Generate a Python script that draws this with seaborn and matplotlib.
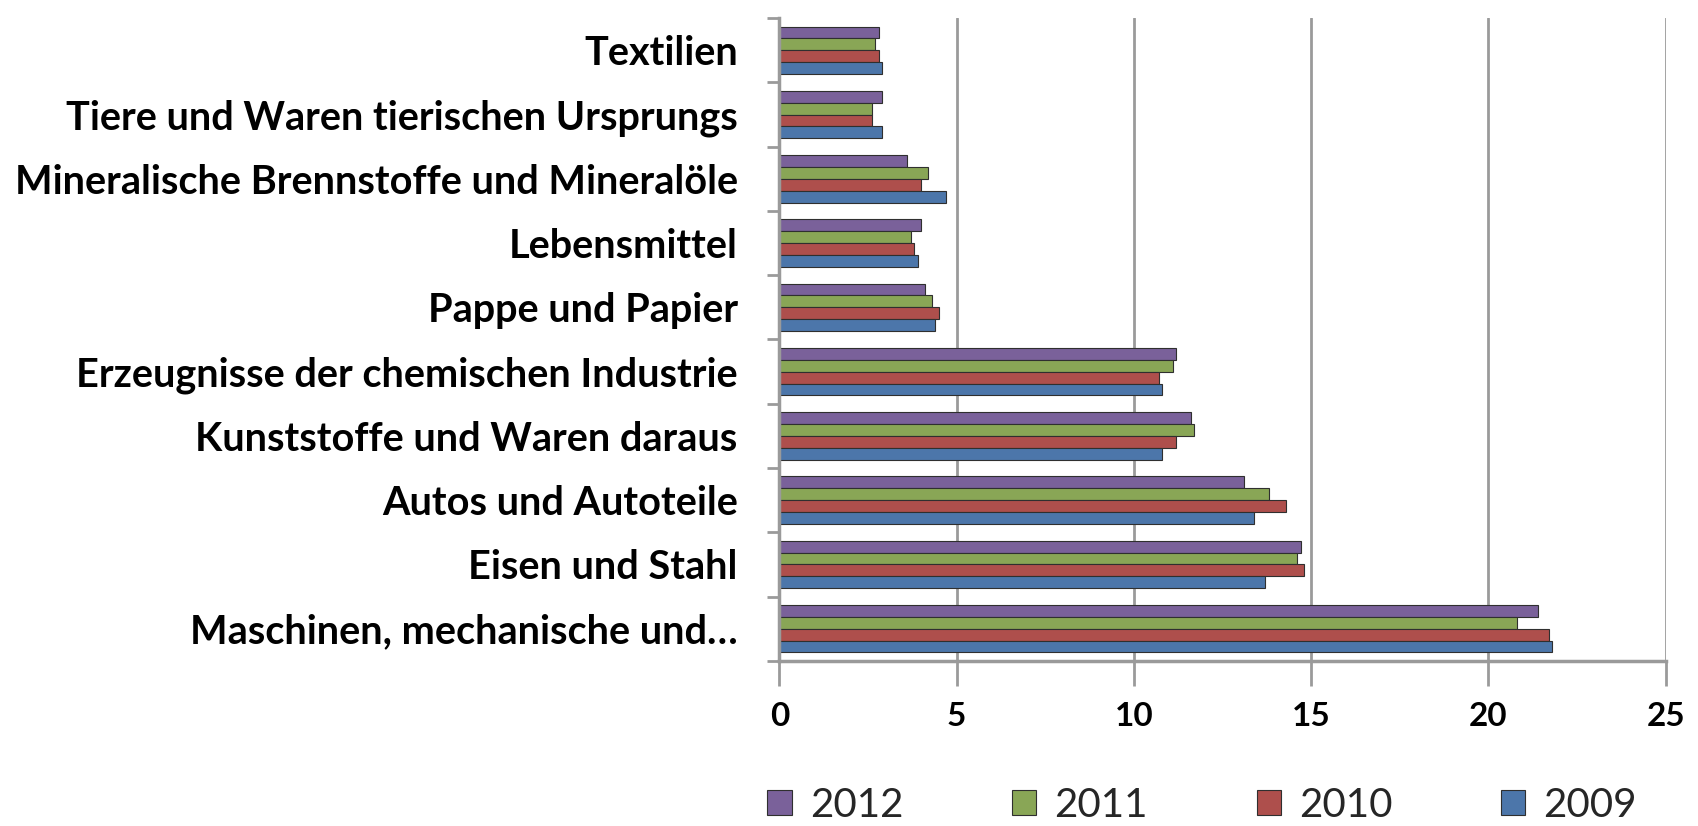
import matplotlib
matplotlib.use("Agg")
import matplotlib.pyplot as plt
import seaborn as sns
import pandas as pd
from matplotlib.ticker import MultipleLocator, FixedLocator

categories = [
    "Textilien",
    "Tiere und Waren tierischen Ursprungs",
    "Mineralische Brennstoffe und Mineralöle",
    "Lebensmittel",
    "Pappe und Papier",
    "Erzeugnisse der chemischen Industrie",
    "Kunststoffe und Waren daraus",
    "Autos und Autoteile",
    "Eisen und Stahl",
    "Maschinen, mechanische und…",
]
years = ["2012", "2011", "2010", "2009"]
v2012 = [2.8, 2.9, 3.6, 4.0, 4.1, 11.2, 11.6, 13.1, 14.7, 21.4]
v2011 = [2.7, 2.6, 4.2, 3.7, 4.3, 11.1, 11.7, 13.8, 14.6, 20.8]
v2010 = [2.8, 2.6, 4.0, 3.8, 4.5, 10.7, 11.2, 14.3, 14.8, 21.7]
v2009 = [2.9, 2.9, 4.7, 3.9, 4.4, 10.8, 10.8, 13.4, 13.7, 21.8]
colors = ["#7957A3", "#8DB349", "#BE3F3C", "#3C74BA"]

series = {"2012": v2012, "2011": v2011, "2010": v2010, "2009": v2009}
rows = []
for y in years:
    for c, v in zip(categories, series[y]):
        rows.append({"Kategorie": c, "Jahr": y, "Wert": v})
df = pd.DataFrame(rows)

sns.set_theme(style="white")
plt.rcParams["font.family"] = ["Lato", "DejaVu Sans"]

fig = plt.figure(figsize=(16.98, 8.26), dpi=100)
ax = fig.add_axes([0.459, 0.2, 0.522, 0.778])

sns.barplot(data=df, y="Kategorie", x="Wert", hue="Jahr", hue_order=years,
            order=categories, palette=colors, orient="h", width=0.74,
            edgecolor="#2f2f2f", linewidth=0.8, ax=ax, legend=True)

ax.set_xlim(0, 25)
ax.set_ylim(len(categories) - 0.5, -0.5)
ax.xaxis.set_major_locator(MultipleLocator(5))
ax.grid(axis="x", color="#9a9a9a", linewidth=2)
ax.set_axisbelow(True)
ax.set_xlabel("")
ax.set_ylabel("")

for s in ["top", "right"]:
    ax.spines[s].set_visible(False)
for s in ["left", "bottom"]:
    ax.spines[s].set_color("#9a9a9a")
    ax.spines[s].set_linewidth(2.5)

ax.tick_params(axis="y", which="major", length=0, pad=30, labelsize=28.5)
ax.yaxis.set_minor_locator(FixedLocator([i - 0.5 for i in range(len(categories) + 1)]))
ax.tick_params(axis="y", which="minor", length=9, width=2, color="#9a9a9a", left=True)
ax.tick_params(axis="x", which="major", length=18, width=2, color="#9a9a9a",
               pad=12, labelsize=24, bottom=True)
for lab in ax.get_yticklabels() + ax.get_xticklabels():
    lab.set_fontweight("bold")
    lab.set_color("#000000")

handles, labels = ax.get_legend_handles_labels()
ax.legend_.remove()
fig.legend(handles, labels, loc="center", bbox_to_anchor=(0.708, 0.025), ncol=4,
           frameon=False, fontsize=29, handlelength=0.6, handleheight=0.6,
           columnspacing=2.7, handletextpad=0.45)

fig.savefig("out.png", dpi=100)
